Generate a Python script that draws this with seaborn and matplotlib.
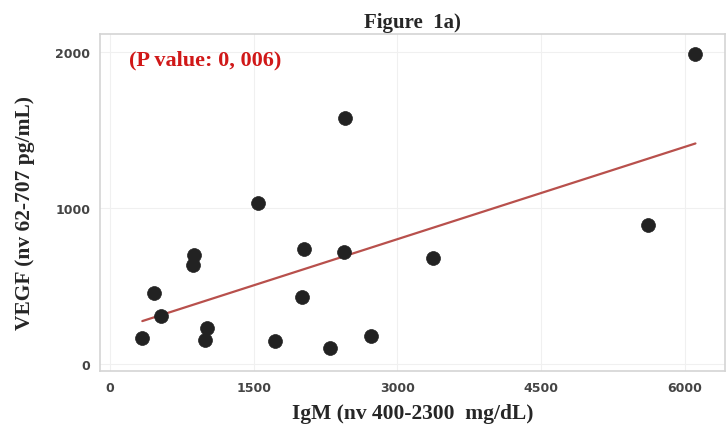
import matplotlib
matplotlib.use("Agg")
import matplotlib.pyplot as plt
import seaborn as sns
import pandas as pd

igm = [6113, 2458, 1546, 5618, 878, 861, 2029, 2441, 3370, 462, 534, 2008, 1013, 992, 336, 1723, 2294, 2723]
vegf = [1985, 1574, 1032, 887, 698, 636, 738, 719, 679, 453, 304, 430, 228, 155, 166, 149, 100, 181]
x_ticks = [0, 1500, 3000, 4500, 6000]
y_ticks = [0, 1000, 2000]

df = pd.DataFrame({"IgM": igm, "VEGF": vegf})

sns.set_style("white")
fig = plt.figure(figsize=(7.26, 4.35), dpi=100)
ax = fig.add_axes([0.138, 0.145, 0.860, 0.775])

sns.regplot(data=df, x="IgM", y="VEGF", ax=ax, ci=None, truncate=True,
            scatter_kws=dict(s=100, color="#222222", edgecolor="#222222", linewidths=0.5, alpha=1, zorder=3),
            line_kws=dict(color="#b8504c", lw=1.6, zorder=2))

ax.set_xlim(-104, 6417)
ax.set_ylim(-45, 2115)
ax.set_xticks(x_ticks)
ax.set_yticks(y_ticks)
ax.grid(True, color="#f0f0f0", lw=0.8)
ax.set_axisbelow(True)
for s in ax.spines.values():
    s.set_color("#d4d4d4")
    s.set_linewidth(1.2)
ax.tick_params(axis="both", length=3, color="#bbbbbb", labelsize=9, labelcolor="#444444", pad=4)
for lab in ax.get_xticklabels() + ax.get_yticklabels():
    lab.set_fontweight("bold")
    lab.set_family("DejaVu Sans")

serif = ["Liberation Serif", "DejaVu Serif"]
ax.set_xlabel("IgM (nv 400-2300  mg/dL)", fontsize=15.5, fontweight="bold", family=serif, labelpad=7)
ax.set_ylabel("VEGF (nv 62-707 pg/mL)", fontsize=15.5, fontweight="bold", family=serif)
ax.yaxis.set_label_coords(-0.105, 0.47)
ax.set_title("Figure  1a)", fontsize=15, fontweight="bold", family=serif, pad=5)
ax.text(0.046, 0.923, "(P value: 0, 006)", transform=ax.transAxes, color="#d01818",
        fontsize=16, fontweight="bold", family=serif, va="center", ha="left")

fig.savefig("out.png", dpi=100)
